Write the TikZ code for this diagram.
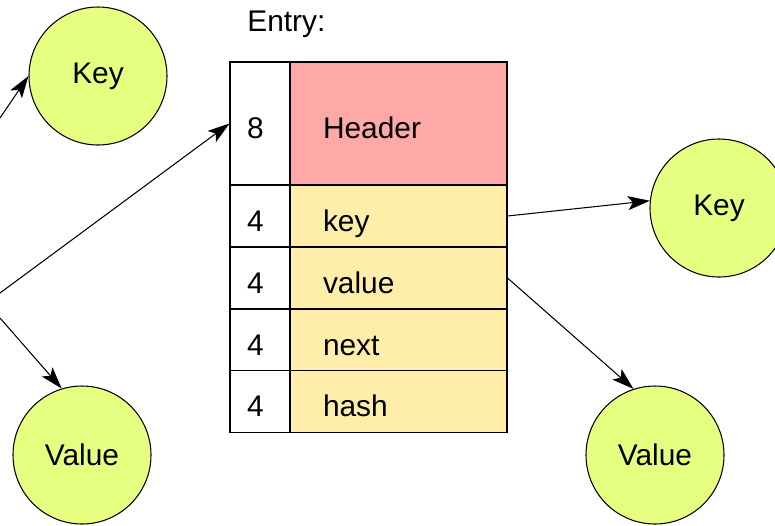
\documentclass[tikz,border=0pt]{standalone}
\usepackage{fontspec}
\setmainfont{Liberation Sans}
\usepackage{tikz}
\definecolor{black}{rgb}{0.0, 0.0, 0.0}
\definecolor{hdrpink}{RGB}{255,168,168}
\definecolor{fieldyellow}{RGB}{255,238,170}
\definecolor{lime}{RGB}{230,255,128}
\usetikzlibrary{arrows.meta}
\pgfdeclarelayer{edgelayer}
\pgfdeclarelayer{nodelayer}
\pgfsetlayers{edgelayer,nodelayer,main}
\tikzstyle{obj}=[circle,fill=lime,draw=black,line width=0.6pt,minimum size=2.76cm,inner sep=0pt]
\tikzstyle{size}=[rectangle,fill=white,draw=black,line width=0.6pt,inner xsep=0.34cm,inner ysep=0pt,text width=0.52cm,text height=0.6cm,text depth=0cm,align=left]
\tikzstyle{field}=[rectangle,fill=fieldyellow,draw=black,line width=0.6pt,inner xsep=0.66cm,inner ysep=0pt,text width=3.02cm,text height=0.6cm,text depth=0cm,align=left,minimum height=1.24cm]

\begin{document}
\begin{tikzpicture}[font=\fontsize{17}{20}\selectfont, >={Stealth[length=0.44cm,width=0.28cm,inset=0.1cm]}]
            \useasboundingbox (0,0) rectangle (15.5,-10.5);

            \begin{pgfonlayer}{nodelayer}
            \node [anchor=base west, inner sep=0pt] (entry) at (4.94, -0.62) {Entry:};

            \node [style = size, minimum height=2.46cm] (hdr8) at (5.2, -2.47) {8};
            \node [style = field, fill=hdrpink, minimum height=2.46cm] (hdr) at (7.97, -2.47) {Header};

            \node [style = size, minimum height=1.24cm] (key4) at (5.2, -4.32) {4};
            \node [style = field] (key) at (7.97, -4.32) {key};
            \node [style = size, minimum height=1.24cm] (value4) at (5.2, -5.56) {4};
            \node [style = field] (value) at (7.97, -5.56) {value};
            \node [style = size, minimum height=1.24cm] (next4) at (5.2, -6.80) {4};
            \node [style = field] (next) at (7.97, -6.80) {next};
            \node [style = size, minimum height=1.24cm] (hash4) at (5.2, -8.03) {4};
            \node [style = field] (hash) at (7.97, -8.03) {hash};

            \node [style = obj] (keyL) at (1.96, -1.52) {Key};
            \node [style = obj] (valL) at (1.64, -9.10) {Value};
            \node [style = obj] (keyR) at (14.38, -4.16) {Key};
            \node [style = obj] (valR) at (13.10, -9.10) {Value};
            \end{pgfonlayer}

            \coordinate (in1) at (0, -2.36);
            \coordinate (in2) at (0, -5.86);
            \coordinate (in3) at (0, -6.36);

        \begin{pgfonlayer}{edgelayer}
            \draw [->, line width=0.6pt] (in1) to (keyL.west);
            \draw [->, line width=0.6pt] (in2) to (hdr8.west);
            \draw [->, line width=0.6pt] (in3) to (valL.107);

            \draw [->, line width=0.6pt] (key.east) to (keyR.174);
            \draw [->, line width=0.6pt] (value.east) to (valR.108);
        \end{pgfonlayer}
    \end{tikzpicture}
\end{document}
